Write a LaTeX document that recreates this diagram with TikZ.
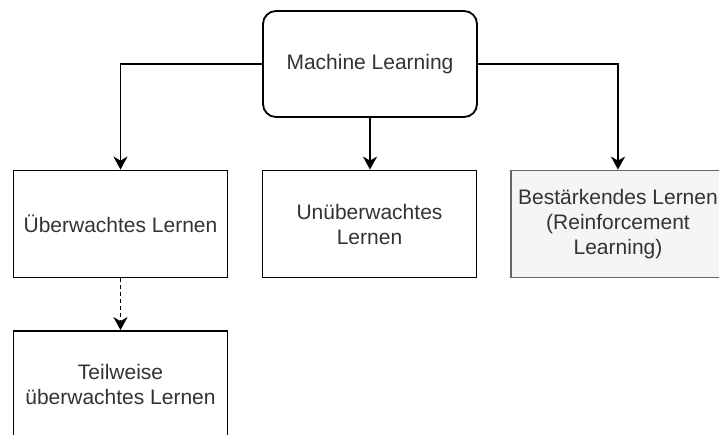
\documentclass[tikz,border=0pt]{standalone}
\usepackage{fontspec}
\setmainfont{Liberation Sans}
\usetikzlibrary{arrows.meta}
\definecolor{txt}{HTML}{333333}
\definecolor{greyfill}{HTML}{F5F5F5}
\definecolor{greyline}{HTML}{666666}
\begin{document}
\begin{tikzpicture}[x=1pt,y=-1pt,
  box/.style={draw=black, line width=1.8pt, fill=white, minimum width=214pt, minimum height=107pt,
    inner sep=0pt, align=center, text=txt, font=\fontsize{21}{25}\selectfont},
  rootbox/.style={box, rounded corners=13pt, minimum height=106pt},
  greybox/.style={box, fill=greyfill, draw=greyline},
  link/.style={draw=black, line width=1.8pt, -{Stealth[length=13pt,width=14pt,inset=4pt]}},
  hint/.style={link, dash pattern=on 4pt off 3pt}]
  \useasboundingbox (0,0) rectangle (719,434);

  \node[rootbox] (ml) at (370,64) {Machine Learning};
  \node[box] (ue) at (120.5,224) {Überwachtes Lernen};
  \node[box] (un) at (369.5,224) {Unüberwachtes\\Lernen};
  \node[greybox] (be) at (618,224) {Bestärkendes Lernen\\(Reinforcement\\Learning)};
  \node[box] (tw) at (120.5,384.5) {Teilweise\\überwachtes Lernen};

  \draw[link] (ml.west) -| (ue.north);
  \draw[link] (ml.south) -- (ml.south |- un.north);
  \draw[link] (ml.east) -| (be.north);
  \draw[hint] (ue.south) -- (tw.north);
\end{tikzpicture}
\end{document}
